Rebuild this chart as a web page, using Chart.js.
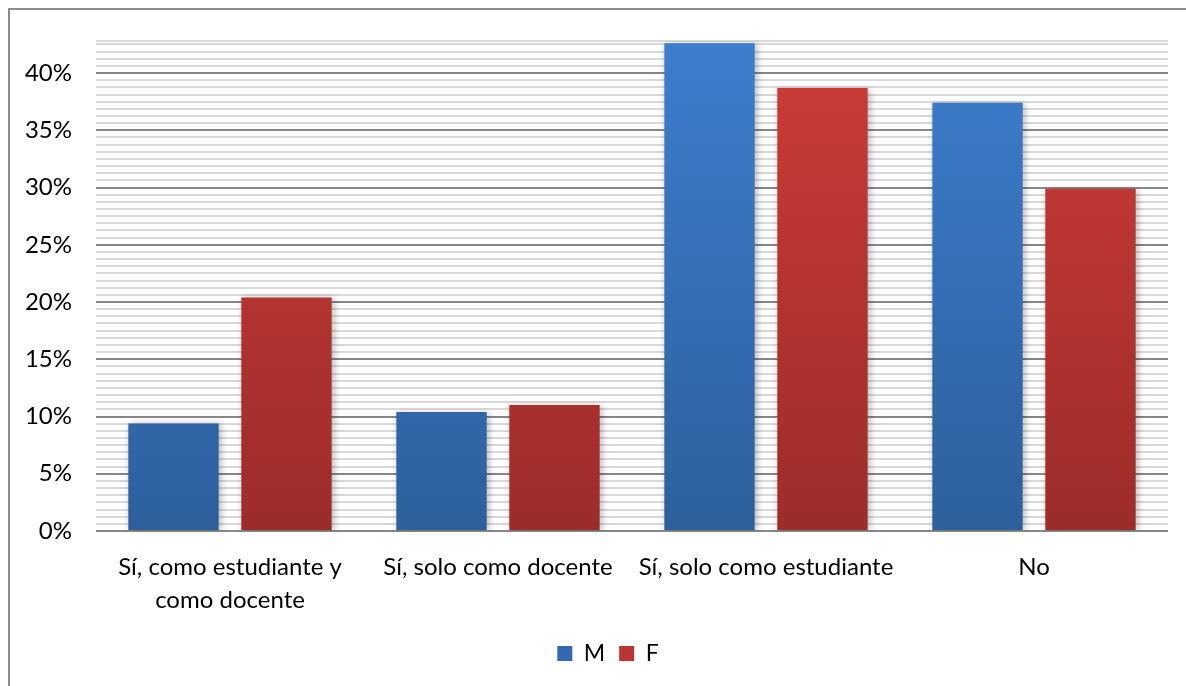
<!DOCTYPE html>
<html>
<head>
<meta charset="utf-8">
<script src="https://cdn.jsdelivr.net/npm/chart.js@4.4.1/dist/chart.umd.min.js"></script>
<style>
  html, body { margin: 0; padding: 0; background: #fff; overflow: hidden; }
  #frame { position: absolute; left: 8px; top: 8px; width: 1200px; height: 700px;
           border-left: 2px solid #8a8a8a; border-top: 2px solid #8a8a8a; }
  #wrap { position: absolute; left: 0; top: 0; width: 1186px; height: 686px; }
</style>
</head>
<body>
<div id="frame"></div>
<div id="wrap"><canvas id="chart"></canvas></div>
<script>
const categories = [["Sí, como estudiante y", "como docente"], "Sí, solo como docente", "Sí, solo como estudiante", "No"];
const seriesM = [9.4, 10.4, 42.6, 37.4];
const seriesF = [20.4, 11.0, 38.7, 29.9];
const tickLabels = [0, 5, 10, 15, 20, 25, 30, 35, 40];
const axisMax = 42.8;
const minorStep = 0.625;

const FONT = "Lato, 'Open Sans', sans-serif";

const gradient = (top, bottom) => (ctx) => {
    const area = ctx.chart.chartArea;
    if (!area) return top;
    const g = ctx.chart.ctx.createLinearGradient(0, area.top, 0, area.bottom);
    g.addColorStop(0, top);
    g.addColorStop(1, bottom);
    return g;
};

const barShadow = {
    id: 'barShadow',
    beforeDatasetsDraw(chart) {
        const c = chart.ctx;
        c.save();
        c.shadowColor = 'rgba(0,0,0,0.28)';
        c.shadowBlur = 7;
        c.shadowOffsetX = 2;
        c.shadowOffsetY = 1;
    },
    afterDatasetsDraw(chart) {
        chart.ctx.restore();
    }
};

// legend sits a little right of centre in the original
const legendShift = {
    id: 'legendShift',
    beforeDraw(chart) {
        if (chart.legend && !chart.legend._shifted) {
            chart.legend.left += 24;
            chart.legend.right += 24;
            chart.legend._shifted = true;
        }
    }
};

new Chart(document.getElementById('chart'), {
    type: 'bar',
    data: {
        labels: categories,
        datasets: [
            { label: 'M', data: seriesM, backgroundColor: gradient('#3d7ecd', '#2d5f9d') },
            { label: 'F', data: seriesF, backgroundColor: gradient('#ce3c38', '#9b2c2a') }
        ]
    },
    plugins: [barShadow, legendShift],
    options: {
        responsive: true,
        maintainAspectRatio: false,
        animation: false,
        datasets: { bar: { categoryPercentage: 0.843, barPercentage: 0.8 } },
        layout: { padding: { left: 0, right: 18, top: 41, bottom: 11 } },
        plugins: {
            tooltip: { enabled: false },
            legend: {
                position: 'bottom',
                labels: {
                    boxWidth: 15, boxHeight: 15, padding: 14,
                    color: '#000', font: { family: FONT, size: 23 },
                    generateLabels(chart) {
                        const cols = ['#3568b4', '#bb3432'];
                        return chart.data.datasets.map((d, i) => ({
                            text: d.label, fillStyle: cols[i], strokeStyle: cols[i],
                            lineWidth: 0, datasetIndex: i, fontColor: '#000'
                        }));
                    }
                }
            }
        },
        scales: {
            x: {
                grid: { display: false, drawTicks: false },
                border: { display: false },
                ticks: { color: '#000', font: { family: FONT, size: 24, lineHeight: 1.38 }, padding: 20, maxRotation: 0, autoSkip: false },
                afterFit(scale) { scale.height = 97; }
            },
            y: {
                min: 0,
                max: axisMax,
                border: { display: false },
                afterFit(scale) { scale.width = 96; },
                afterBuildTicks(scale) {
                    const t = [];
                    for (let i = 0; i * minorStep <= axisMax + 1e-9; i++) t.push({ value: i * minorStep });
                    t.push({ value: axisMax });
                    scale.ticks = t;
                },
                grid: {
                    drawTicks: false,
                    lineWidth: 2,
                    color(ctx) {
                        const v = ctx.tick.value;
                        return tickLabels.some(l => Math.abs(l - v) < 1e-6) ? '#878787' : '#d9d9d9';
                    }
                },
                ticks: {
                    padding: 24,
                    color: '#000',
                    font: { family: FONT, size: 24 },
                    autoSkip: false,
                    callback(v) {
                        return tickLabels.some(l => Math.abs(l - v) < 1e-6) ? Math.round(v) + '%' : '';
                    }
                }
            }
        }
    }
});
</script>
</body>
</html>
